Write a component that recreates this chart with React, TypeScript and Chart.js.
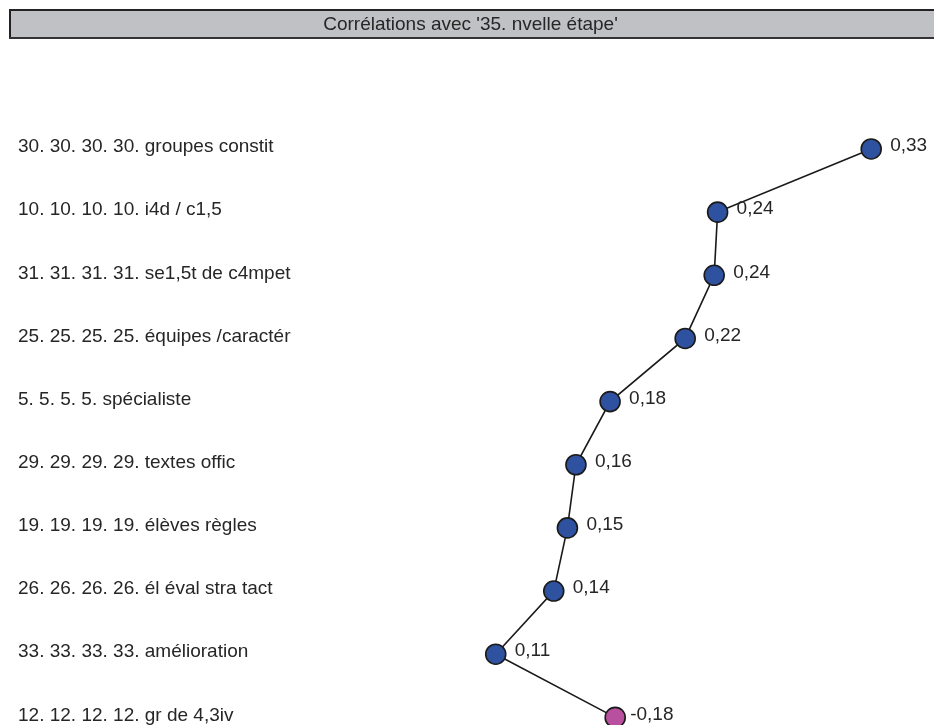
import React, { useEffect, useRef } from "react";
import { Chart, registerables } from "chart.js";

Chart.register(...registerables);

const TITLE = "Corrélations avec '35. nvelle étape'";

const categories: string[] = [
  "30. 30. 30. 30. groupes constit",
  "10. 10. 10. 10. i4d / c1,5",
  "31. 31. 31. 31. se1,5t de c4mpet",
  "25. 25. 25. 25. équipes /caractér",
  "5. 5. 5. 5. spécialiste",
  "29. 29. 29. 29. textes offic",
  "19. 19. 19. 19. élèves règles",
  "26. 26. 26. 26. él éval stra tact",
  "33. 33. 33. 33. amélioration",
  "12. 12. 12. 12. gr de 4,3iv",
];

const correlations: number[] = [0.33, 0.24, 0.238, 0.221, 0.177, 0.157, 0.152, 0.144, 0.11, -0.18];

const POS_COLOR = "#2f52a0";
const NEG_COLOR = "#b9509f";
const TEXT_COLOR = "#262626";
const FONT = "'Liberation Sans', Arial, sans-serif";
const FONT_SIZE = 19;

const fmt = (v: number) => v.toFixed(2).replace(".", ",");

const titleBarPlugin = {
  id: "titleBar",
  beforeDraw(chart: any) {
    const tb = chart.titleBlock;
    if (!tb) return;
    const ctx = chart.ctx;
    const left = 9;
    const top = tb.top;
    const h = 30;
    const right = chart.width + 2;
    ctx.save();
    ctx.fillStyle = "#c0c1c5";
    ctx.fillRect(left, top, right - left, h);
    ctx.strokeStyle = "#222222";
    ctx.lineWidth = 2;
    ctx.beginPath();
    ctx.moveTo(left + 1, top + h);
    ctx.lineTo(left + 1, top + 1);
    ctx.lineTo(right, top + 1);
    ctx.stroke();
    ctx.strokeStyle = "#333333";
    ctx.beginPath();
    ctx.moveTo(left, top + h - 1);
    ctx.lineTo(right, top + h - 1);
    ctx.stroke();
    ctx.restore();
  },
};

const valueLabelPlugin = {
  id: "valueLabels",
  afterDatasetsDraw(chart: any) {
    const ctx = chart.ctx;
    const meta = chart.getDatasetMeta(0);
    ctx.save();
    ctx.font = `${FONT_SIZE}px ${FONT}`;
    ctx.fillStyle = TEXT_COLOR;
    ctx.textAlign = "left";
    ctx.textBaseline = "middle";
    meta.data.forEach((el: any, i: number) => {
      const v = correlations[i];
      ctx.fillText(fmt(v), el.x + (v < 0 ? 15 : 19), el.y - 3);
    });
    ctx.restore();
  },
};

export default function App() {
  const ref = useRef<HTMLCanvasElement | null>(null);

  useEffect(() => {
    if (!ref.current) return;
    const data = correlations.map((v, i) => ({ x: Math.abs(v), y: i }));
    const chart = new Chart(ref.current, {
      type: "scatter",
      data: {
        datasets: [
          {
            data,
            showLine: true,
            borderColor: "#1a1a1a",
            borderWidth: 1.6,
            pointRadius: 10,
            pointHoverRadius: 10,
            pointBorderWidth: 1.6,
            pointBorderColor: "#1a1a1a",
            pointBackgroundColor: correlations.map((v) => (v < 0 ? NEG_COLOR : POS_COLOR)),
            clip: false,
          } as any,
        ],
      },
      options: {
        responsive: false,
        animation: false,
        devicePixelRatio: 1,
        layout: { padding: { left: 18, right: 11, top: 9, bottom: 0 } },
        plugins: {
          legend: { display: false },
          tooltip: { enabled: false },
          title: {
            display: true,
            text: TITLE,
            color: TEXT_COLOR,
            font: { family: FONT, size: FONT_SIZE, weight: "normal" as any },
            padding: { top: 4, bottom: 81.6 },
          },
        },
        scales: {
          x: {
            type: "linear",
            min: 0,
            max: 0.36,
            display: false,
          },
          y: {
            type: "linear",
            reverse: true,
            min: -0.5,
            max: 8.937,
            grid: { display: false, drawTicks: false },
            border: { display: false },
            afterFit: (scale: any) => {
              scale.width = 290;
            },
            afterBuildTicks: (scale: any) => {
              scale.ticks = categories.map((_, i) => ({ value: i }));
            },
            ticks: {
              autoSkip: false,
              crossAlign: "far",
              padding: 0,
              labelOffset: -2,
              color: TEXT_COLOR,
              font: { family: FONT, size: FONT_SIZE },
              callback: (value: any) => categories[value as number] ?? "",
            },
          },
        },
      },
      plugins: [titleBarPlugin, valueLabelPlugin],
    });
    return () => chart.destroy();
  }, []);

  return (
    <div style={{ position: "absolute", left: 0, top: 0, width: 934, height: 725, background: "#ffffff" }}>
      <canvas ref={ref} width={934} height={725} />
    </div>
  );
}
